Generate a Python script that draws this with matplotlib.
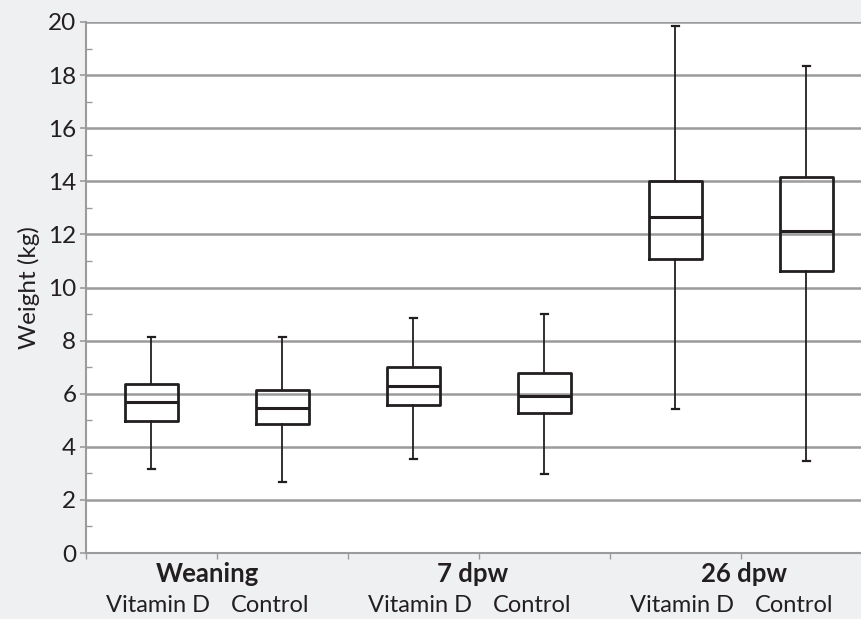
import matplotlib
matplotlib.use("Agg")
import matplotlib.pyplot as plt
from matplotlib.ticker import MultipleLocator

# box statistics (kg)
groups = ["Weaning", "7 dpw", "26 dpw"]
treatments = ["Vitamin D", "Control"]
whislo = [3.15, 2.66, 3.54, 2.99, 5.41, 3.47]
q1 = [4.97, 4.85, 5.57, 5.28, 11.06, 10.63]
med = [5.69, 5.46, 6.29, 5.90, 12.67, 12.13]
q3 = [6.35, 6.14, 7.02, 6.79, 14.00, 14.17]
whishi = [8.15, 8.15, 8.85, 8.99, 19.86, 18.34]

positions = [1, 2, 3, 4, 5, 6]
group_x = [1.43, 3.45, 5.52]
treat_dx = [0.05, -0.095]

ink = "#231f20"
grid_c = "#9b9b9b"
bg = "#eff0f2"

plt.rcParams["font.family"] = ["Lato", "DejaVu Sans"]

fig = plt.figure(figsize=(8.62, 6.19), dpi=100, facecolor=bg)
ax = fig.add_axes([86 / 862, 66 / 619, 786 / 862, 531 / 619])
ax.set_facecolor("white")

stats = []
for i in range(len(positions)):
    stats.append({"whislo": whislo[i], "q1": q1[i], "med": med[i],
                  "q3": q3[i], "whishi": whishi[i], "fliers": []})

ax.bxp(stats, positions=positions, widths=0.4, showfliers=False,
       boxprops=dict(color=ink, linewidth=2.0),
       medianprops=dict(color=ink, linewidth=2.2),
       whiskerprops=dict(color=ink, linewidth=1.3),
       capprops=dict(color=ink, linewidth=1.6),
       capwidths=0.055, zorder=3)

ax.set_xlim(0.5, 6.5)
ax.set_ylim(0, 20)
ax.yaxis.set_major_locator(MultipleLocator(2))
ax.yaxis.set_minor_locator(MultipleLocator(1))
ax.grid(axis="y", which="major", color=grid_c, linewidth=1.8, zorder=1)

for side in ["top", "right"]:
    ax.spines[side].set_visible(False)
for side in ["left", "bottom"]:
    ax.spines[side].set_color(grid_c)
    ax.spines[side].set_linewidth(1.5)

ax.tick_params(axis="y", which="major", length=4, color=grid_c, width=1.2,
               labelsize=17.5, labelcolor=ink, pad=3)
ax.tick_params(axis="y", which="minor", length=4, color=grid_c, width=1.0,
               direction="in")
ax.set_xticks([0.5, 1.5, 2.5, 3.5, 4.5, 5.5, 6.5])
ax.set_xticklabels([])
ax.tick_params(axis="x", length=4, color=grid_c, width=1.0)

ax.set_ylabel("Weight (kg)", fontsize=17.5, color=ink, labelpad=6)

trans = ax.get_xaxis_transform()
for g, gx in zip(groups, group_x):
    ax.text(gx, -0.04, g, transform=trans, ha="center", va="center",
            fontsize=18.5, fontweight="bold", color=ink)
for i, p in enumerate(positions):
    ax.text(p + treat_dx[i % 2], -0.098, treatments[i % 2], transform=trans,
            ha="center", va="center", fontsize=17, color=ink)

fig.savefig("out.png", dpi=100, facecolor=bg)
